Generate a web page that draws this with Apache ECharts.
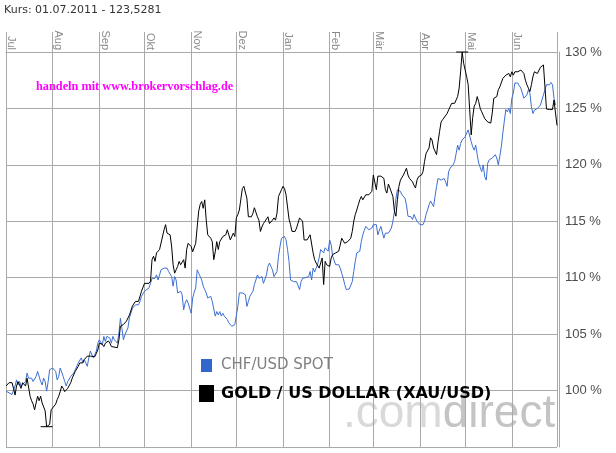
<!DOCTYPE html>
<html><head><meta charset="utf-8">
<script src="https://cdn.jsdelivr.net/npm/echarts@6/dist/echarts.min.js"></script>
<style>html,body{margin:0;padding:0;background:#fff}#c{width:616px;height:453px}</style>
</head><body><div id="c"></div>
<script>
// Days since 01.07.2011 and normalised quote in %
const startDate = [2011, 6, 1];
const monthNames = ['Jan','Feb','Mär','Apr','Mai','Jun','Jul','Aug','Sep','Okt','Nov','Dez'];
const titleText = 'Kurs: 01.07.2011 - 123,5281';
const adText = 'handeln mit www.brokervorschlag.de';
const chfName = 'CHF/USD SPOT';
const goldName = 'GOLD / US DOLLAR (XAU/USD)';

const goldDays = [0,2,4,5,6,7,8,9,10,11,13,14,15,16,17,18,19,20,21,22,23,24,25,26,27,28,29,30,31,33,34,35,36,37,38,39,40,41,43,44,46,48,49,50,51,52,54,56,57,59,60,61,62,64,65,66,68,69,70,71,74,75,76,77,78,79,80,81,82,84,85,86,87,88,89,90,91,92,93,95,96,97,98,99,100,101,102,103,105,106,107,108,109,110,111,112,113,114,115,116,117,118,119,120,121,122,123,124,126,127,128,129,130,131,132,133,134,136,137,138,139,140,141,142,143,144,146,147,148,149,150,151,152,153,154,155,157,158,159,160,161,162,163,164,165,167,168,169,170,171,172,173,174,175,177,178,179,180,181,182,183,184,185,186,188,189,190,191,192,193,194,195,196,197,198,199,200,201,202,203,204,205,206,208,209,210,211,212,213,214,215,216,217,219,220,221,222,223,224,225,226,227,229,230,231,232,233,234,235,236,237,239,240,241,242,243,244,245,246,247,249,250,251,252,253,254,255,256,257,258,259,260,261,262,263,264,265,266,267,268,270,271,272,273,274,275,276,277,278,279,281,282,283,284,286,287,288,289,290,291,293,294,295,296,297,298,299,300,301,302,303,304,305,306,307,308,309,310,311,312,313,314,315,316,317,318,319,320,322,323,324,325,326,327,328,329,330,332,333,334,335,336,337,338,339,340,342,343,344,345,346,347,348,349,350,351,352,353,354,355,357,358,359,360,361,363,364,365,366];
const goldVals = [100.4,100.7,100.7,100.2,99.6,100.4,100.8,100.5,100.2,100.7,100.4,101.1,101.0,99.5,99.1,98.8,98.3,98.9,99.5,99.1,99.5,98.9,98.8,98.2,96.8,96.8,97.0,98.3,98.3,98.8,99.2,99.5,99.9,100.4,100.2,99.9,99.85,100.2,100.7,101.1,101.7,102.15,102.45,102.6,102.45,102.75,103.05,103.05,103.2,103.0,103.0,103.6,104.2,104.1,103.9,104.2,104.4,104.2,103.9,103.8,103.8,104.5,105.7,105.55,105.85,106.0,106.15,106.3,106.7,107.5,107.6,107.9,108.05,107.9,108.05,108.8,108.95,109.5,109.4,109.5,109.7,111.6,111.9,111.45,112.2,112.3,112.5,112.6,114.25,114.7,113.95,113.95,113.8,112.8,111.15,110.4,110.7,111.0,111.45,111.15,111.0,111.6,110.85,112.5,113.05,112.9,112.75,112.3,113.05,114.5,115.9,116.5,116.75,116.15,116.9,115.1,113.8,113.5,113.2,111.6,112.3,113.2,112.5,113.2,113.35,113.65,113.8,114.25,114.1,113.35,113.5,113.95,113.65,115.3,115.6,116.0,117.9,118.1,118.2,117.05,115.4,115.3,115.4,115.7,116.2,115.4,115.1,114.1,114.5,114.8,115.0,115.1,115.4,114.8,115.1,115.3,115.1,115.7,117.2,117.05,117.8,118.1,117.9,117.35,115.2,114.7,114.1,113.95,114.1,114.4,114.85,115.3,115.45,115.0,113.35,113.2,113.35,113.2,113.8,113.95,112.2,111.6,111.3,110.85,111.0,111.75,109.4,111.45,111.15,111.0,111.0,111.75,112.05,112.2,112.2,112.35,112.9,113.5,113.35,113.05,113.05,113.2,113.5,114.1,115.0,115.6,116.0,116.45,116.9,117.2,116.9,117.35,117.35,117.35,117.5,117.65,119.1,119.25,117.8,119.0,119.0,118.95,118.8,117.8,117.5,118.3,117.95,118.1,117.2,115.9,115.45,116.9,118.1,118.65,118.8,119.1,119.4,119.7,119.1,118.8,118.5,118.2,117.95,118.65,118.95,119.1,119.1,119.4,120.3,121.0,121.5,122.4,122.2,121.5,120.9,122.05,122.95,123.8,124.0,124.1,124.55,124.85,125.15,125.45,125.45,125.45,125.6,126.05,126.8,128.3,130.0,129.0,128.4,127.8,127.1,124.9,122.65,124.2,125.2,125.45,126.05,125.6,125.0,124.7,124.4,124.1,124.1,123.8,123.7,124.6,125.9,126.05,126.05,126.65,126.9,126.9,127.65,127.95,127.9,128.1,127.8,128.25,127.95,128.25,128.4,128.25,128.4,128.55,128.1,127.5,127.1,126.8,126.5,127.1,127.8,128.25,128.25,128.1,128.25,128.65,128.85,126.9,124.95,124.9,124.9,124.9,125.75,124.6,123.5];

const chfDays = [0,2,3,4,5,6,7,8,9,10,11,13,14,15,16,17,18,19,20,21,23,24,25,26,27,28,29,30,31,33,34,35,36,37,38,39,40,41,43,44,45,46,47,48,49,50,51,52,54,55,56,57,58,59,60,61,62,64,65,66,67,68,69,70,71,72,74,75,76,77,78,79,80,81,82,84,85,86,87,88,89,90,91,92,93,95,96,97,98,99,100,101,102,103,104,105,106,107,108,109,110,111,112,113,114,115,116,117,118,119,120,121,122,123,124,125,126,127,128,129,130,131,132,133,134,135,136,137,138,139,140,141,142,143,144,145,146,147,148,149,150,151,152,153,154,155,156,157,158,159,160,161,162,163,164,165,166,167,168,169,170,171,172,173,174,175,176,177,178,179,180,181,182,183,184,185,186,187,188,189,190,191,192,193,194,195,196,197,198,199,200,201,202,203,204,205,206,207,208,209,210,211,212,213,214,215,216,217,218,219,220,221,222,223,224,225,226,227,228,229,230,231,232,233,234,235,236,237,238,239,240,241,242,243,244,245,246,247,248,249,250,251,252,253,254,255,256,257,258,259,260,261,262,263,264,265,266,267,268,269,270,271,272,273,274,275,276,277,278,279,280,281,282,283,284,285,286,287,288,289,290,291,292,293,294,295,296,297,298,299,300,301,302,303,304,305,306,307,308,309,310,311,312,313,314,315,316,317,318,319,320,321,322,323,324,325,326,327,328,329,330,331,332,333,334,335,336,337,338,339,340,341,342,343,344,345,346,347,348,349,350,351,352,353,354,355,356,357,358,359,360,361,362,363,364,365];
const chfVals = [99.95,99.8,99.8,99.65,99.5,100.4,100.95,100.5,100.8,100.4,100.5,100.8,101.55,101.1,100.95,101.1,100.8,100.8,101.25,101.7,100.8,100.5,101.1,100.8,99.95,100.8,101.85,101.7,102.0,101.7,100.95,101.25,102.0,102.15,101.25,100.8,100.4,100.8,101.25,101.1,101.55,101.85,102.0,102.45,102.6,102.9,102.45,102.75,102.15,102.9,103.5,103.35,102.9,103.2,103.5,104.2,104.5,104.05,104.8,104.35,104.8,104.95,104.65,104.2,104.8,104.5,104.2,105.1,106.4,105.5,104.5,104.95,105.1,105.55,106.45,107.3,107.45,107.6,107.75,107.6,107.9,108.35,108.4,108.8,108.65,109.1,109.5,109.95,110.1,109.95,110.25,109.8,110.25,110.7,110.8,110.85,110.7,110.85,110.55,110.7,110.1,109.25,110.1,109.8,108.65,108.7,108.8,108.5,107.15,107.75,108.05,107.75,107.6,106.85,108.2,108.7,109.1,110.7,110.4,110.25,109.8,109.25,108.95,108.65,108.2,108.3,108.35,107.9,107.75,106.6,107.0,106.7,107.0,106.6,106.85,106.6,106.45,106.3,106.0,105.85,105.7,105.7,105.85,105.85,107.45,108.65,108.7,108.65,108.8,108.5,107.45,107.9,108.35,108.35,108.8,109.4,109.8,110.25,109.95,109.8,110.1,109.5,109.4,110.25,111.0,111.3,111.0,110.7,110.1,109.95,110.55,111.9,112.75,113.5,113.65,113.65,113.35,112.5,111.45,109.8,109.65,109.65,109.65,109.65,109.5,108.95,109.65,109.95,110.1,110.0,109.95,110.1,110.55,109.8,110.85,110.5,110.55,111.2,111.75,112.5,112.35,112.2,112.65,112.5,112.35,113.35,112.9,111.9,111.75,111.15,111.3,111.15,110.85,110.4,109.95,109.4,108.95,108.95,109.0,109.1,109.65,110.55,111.45,112.2,112.35,112.35,113.2,113.8,114.2,114.55,114.4,114.25,114.4,114.4,114.7,114.55,114.7,113.8,114.2,114.55,114.7,113.5,113.95,114.1,113.95,114.1,114.4,115.0,115.85,117.0,117.8,117.65,117.65,117.35,117.2,117.05,116.45,115.45,115.6,115.4,115.15,115.6,115.45,115.0,115.15,114.7,114.7,114.7,115.0,115.6,116.0,116.45,116.8,116.9,116.3,117.2,118.1,118.8,118.95,118.65,118.7,118.8,118.5,118.1,119.4,119.7,119.85,120.0,120.3,121.0,121.75,121.3,121.9,122.2,122.35,122.5,122.65,123.1,123.25,122.05,121.6,121.3,121.75,120.9,120.15,120.0,119.4,120.0,118.95,118.65,120.15,120.45,120.3,120.6,120.75,120.9,120.6,120.0,120.75,121.6,122.8,123.85,124.9,124.7,125.0,124.55,125.9,126.35,127.25,127.1,127.25,127.0,126.8,126.95,125.9,125.75,126.2,126.65,126.35,125.15,124.55,124.85,124.95,125.0,125.0,125.3,125.75,126.2,126.35,127.1,127.25,127.1,127.3,127.1,125.9,125.3];

const yMin = 95, yMax = 130, yStep = 5;

function dayToTime(d) { return new Date(startDate[0], startDate[1], startDate[2] + d).getTime(); }
const xMinT = dayToTime(0);
const xMaxT = dayToTime(366);
const goldData = goldDays.map((d, i) => [dayToTime(d), goldVals[i]]);
const chfData = chfDays.map((d, i) => [dayToTime(d), chfVals[i]]);

const gridColor = '#a9a9a9';
const chart = echarts.init(document.getElementById('c'), null, {renderer: 'canvas'});
chart.setOption({
  animation: false,
  backgroundColor: '#fff',
  title: [
    {text: titleText, left: 4, top: 5, padding: 0,
     textStyle: {fontFamily: 'DejaVu Sans', fontSize: 11, fontWeight: 'normal', color: '#333'}},
    {text: adText, left: 36, top: 81, padding: 0,
     textStyle: {fontFamily: 'Liberation Serif', fontSize: 12.3, fontWeight: 'bold', color: '#ff00ff'}}
  ],
  legend: [
    {data: [{name: chfName, icon: 'rect'}], left: 201, top: 358, padding: 0,
     itemWidth: 11, itemHeight: 13, selectedMode: false,
     textStyle: {fontFamily: 'DejaVu Sans', fontSize: 15, color: '#808080', padding: [0,0,0,4]}},
    {data: [{name: goldName, icon: 'rect'}], left: 199, top: 385, padding: 0,
     itemWidth: 15, itemHeight: 17, selectedMode: false,
     textStyle: {fontFamily: 'DejaVu Sans', fontSize: 16, fontWeight: 'bold', color: '#000', padding: [0,0,0,2]}}
  ],
  grid: {left: 6, right: 59, top: 52, bottom: 6, containLabel: false, outerBoundsMode: 'none'},
  xAxis: {
    type: 'time', position: 'top', min: xMinT, max: xMaxT,
    minInterval: 28 * 864e5, maxInterval: 31 * 864e5,
    axisLine: {show: true, lineStyle: {color: gridColor, width: 1}},
    axisTick: {show: true, length: 20, lineStyle: {color: gridColor, width: 1}},
    splitLine: {show: true, lineStyle: {color: gridColor, width: 1}},
    axisLabel: {
      rotate: 90, margin: 2, verticalAlign: 'bottom',
      fontFamily: 'Liberation Sans', fontSize: 11, color: '#8a8a8a',
      showMaxLabel: false, hideOverlap: false,
      formatter: function (v) { if (v >= xMaxT) return ''; return monthNames[new Date(v).getMonth()]; }
    }
  },
  yAxis: {
    type: 'value', position: 'right', min: yMin, max: yMax, interval: yStep, offset: 2,
    axisLine: {show: true, lineStyle: {color: gridColor, width: 1}},
    axisTick: {show: false},
    splitLine: {show: true, lineStyle: {color: gridColor, width: 1}},
    axisLabel: {
      margin: 6, showMinLabel: false, fontFamily: 'Liberation Sans', fontSize: 13, color: '#4d4d4d',
      formatter: '{value} %'
    }
  },
  graphic: [
    {type: 'text', left: 343, top: 391, silent: true, z: 0,
     style: {text: '{a|.com}{b|direct}', rich: {
       a: {fontFamily: 'Liberation Sans', fontSize: 46, fill: '#d9d9d9'},
       b: {fontFamily: 'Liberation Sans', fontSize: 46, fill: '#c4c4c4'}}}}
  ],
  series: [
    {name: chfName, type: 'line', data: chfData, showSymbol: false, symbol: 'none',
     lineStyle: {color: '#3d6fd1', width: 1}, itemStyle: {color: '#3366cc'}, z: 3},
    {name: goldName, type: 'line', data: goldData, showSymbol: false, symbol: 'none',
     lineStyle: {color: '#000', width: 1}, itemStyle: {color: '#000'}, z: 4,
     markPoint: {symbol: 'rect', symbolSize: [12, 1], label: {show: false},
       itemStyle: {color: '#000'}, silent: true,
       data: [{type: 'max'}, {type: 'min'}]}}
  ]
});
</script></body></html>
